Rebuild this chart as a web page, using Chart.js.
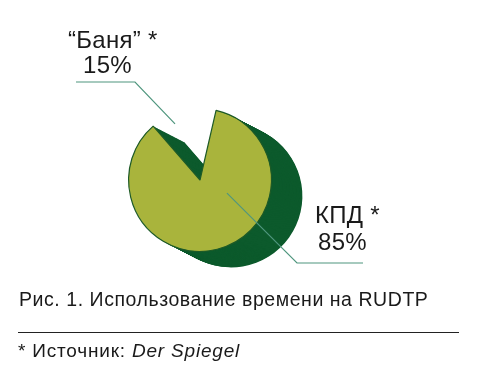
<!DOCTYPE html>
<html>
<head>
<meta charset="utf-8">
<script src="https://cdn.jsdelivr.net/npm/chart.js@4"></script>
<style>
  html, body { margin: 0; padding: 0; background: #fff; }
  #wrap { position: relative; width: 477px; height: 390px; overflow: hidden; }
  #chart { position: absolute; left: 0; top: 0; }
  .t { position: absolute; font-family: "Liberation Sans", Arial, sans-serif; color: #1a1a1a; line-height: 1; white-space: nowrap; }
  .lbl { font-size: 24px; letter-spacing: 0.3px; }
  .cap { font-size: 19.5px; letter-spacing: 0.55px; }
  .note { font-size: 19px; letter-spacing: 0.8px; }
  #rule { position: absolute; left: 18px; top: 332px; width: 441px; height: 0; border-top: 1.5px solid #222; }
</style>
</head>
<body>
<div id="wrap">
  <canvas id="chart" width="477" height="390"></canvas>
  <div class="t lbl" style="left:68px; top:28px;">“Баня” *</div>
  <div class="t lbl" style="left:83px; top:53px;">15%</div>
  <div class="t lbl" style="left:315px; top:203px;">КПД *</div>
  <div class="t lbl" style="left:318px; top:230px;">85%</div>
  <div class="t cap" style="left:19px; top:289.5px;">Рис. 1. Использование времени на RUDTP</div>
  <div id="rule"></div>
  <div class="t note" style="left:18px; top:340.5px;">* Источник: <i>Der Spiegel</i></div>
</div>
<script>
// Data
const categories = ['“Баня”', 'КПД'];
const shares = [15, 85];

// Colours
const faceColors = ['rgba(0,0,0,0)', '#a9b43c'];
const sideColor = '#0c5a2c';
const edgeColor = '#1d5a27';
const leaderColor = '#4f967e';

// depth of the fake 3D extrusion (down-right)
const depth = { dx: 31, dy: 16 };

// Draw the dark side of the pie before the face
const extrudePlugin = {
    id: 'extrude',
    beforeDatasetsDraw(chart) {
        const ctx = chart.ctx;
        const meta = chart.getDatasetMeta(0);
        const steps = 40;
        ctx.save();
        ctx.fillStyle = sideColor;
        meta.data.forEach((arc, i) => {
            if (i === 0) return; // the missing slice has no body
            const p = arc.getProps(['x', 'y', 'startAngle', 'endAngle', 'outerRadius'], true);
            for (let k = steps; k >= 1; k--) {
                const ox = p.x + depth.dx * k / steps;
                const oy = p.y + depth.dy * k / steps;
                ctx.beginPath();
                ctx.moveTo(ox, oy);
                ctx.arc(ox, oy, p.outerRadius, p.startAngle, p.endAngle);
                ctx.closePath();
                ctx.fill();
            }
        });
        ctx.restore();
    }
};

// Leader lines from labels to slices (angle in degrees from 12 o'clock)
const leaders = [
    { slice: 0, angle: -24, frac: 0.86, from: [76, 82], elbow: [135, 82] },
    { slice: 1, angle: 116, frac: 0.42, from: [363, 263], elbow: [297, 263] }
];

const leaderPlugin = {
    id: 'leaders',
    afterDatasetsDraw(chart) {
        const ctx = chart.ctx;
        const meta = chart.getDatasetMeta(0);
        ctx.save();
        ctx.strokeStyle = leaderColor;
        ctx.lineWidth = 1.2;
        leaders.forEach(l => {
            const p = meta.data[l.slice].getProps(['x', 'y', 'outerRadius'], true);
            const a = (l.angle - 90) * Math.PI / 180;
            const tx = p.x + Math.cos(a) * p.outerRadius * l.frac;
            const ty = p.y + Math.sin(a) * p.outerRadius * l.frac;
            ctx.beginPath();
            ctx.moveTo(l.from[0], l.from[1]);
            ctx.lineTo(l.elbow[0], l.elbow[1]);
            ctx.lineTo(tx, ty);
            ctx.stroke();
        });
        ctx.restore();
    }
};

new Chart(document.getElementById('chart'), {
    type: 'pie',
    data: {
        labels: categories,
        datasets: [{
            data: shares,
            backgroundColor: faceColors,
            borderColor: ['rgba(0,0,0,0)', edgeColor],
            borderWidth: [0, 1.2]
        }]
    },
    options: {
        responsive: false,
        devicePixelRatio: 1,
        animation: false,
        rotation: -41,
        layout: { padding: { left: 128, right: 205, top: 108, bottom: 138 } },
        events: [],
        plugins: {
            legend: { display: false },
            tooltip: { enabled: false }
        }
    },
    plugins: [extrudePlugin, leaderPlugin]
});
</script>
</body>
</html>
